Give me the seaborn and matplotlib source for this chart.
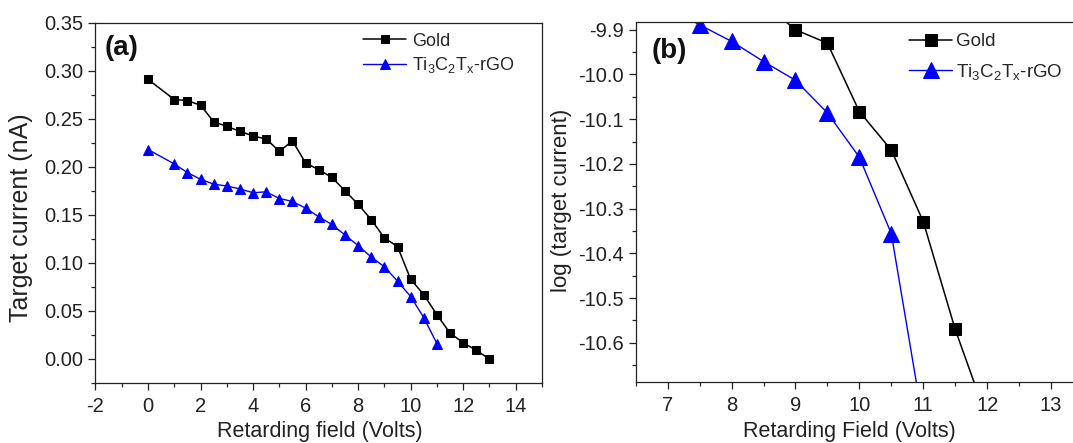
import matplotlib
matplotlib.use("Agg")
import matplotlib.pyplot as plt
import seaborn as sns
import pandas as pd
from matplotlib.ticker import MultipleLocator, FormatStrFormatter

# ---------------- data: panel (a) ----------------
gold_x = [0, 1, 1.5, 2, 2.5, 3, 3.5, 4, 4.5, 5, 5.5, 6, 6.5, 7, 7.5, 8, 8.5,
          9, 9.5, 10, 10.5, 11, 11.5, 12, 12.5, 13]
gold_current = [0.291, 0.270, 0.269, 0.264, 0.247, 0.242, 0.237, 0.232, 0.229,
                0.216, 0.227, 0.204, 0.197, 0.189, 0.175, 0.161, 0.145, 0.126,
                0.117, 0.083, 0.067, 0.046, 0.027, 0.017, 0.009, 0.000]
ti_x = [0, 1, 1.5, 2, 2.5, 3, 3.5, 4, 4.5, 5, 5.5, 6, 6.5, 7, 7.5, 8, 8.5,
        9, 9.5, 10, 10.5, 11]
ti_current = [0.218, 0.203, 0.194, 0.187, 0.182, 0.180, 0.177, 0.173, 0.174,
              0.167, 0.164, 0.157, 0.148, 0.140, 0.129, 0.118, 0.106, 0.096,
              0.081, 0.065, 0.043, 0.016]

# ---------------- data: panel (b) ----------------
gold_log_x = [8.5, 9, 9.5, 10, 10.5, 11, 11.5, 12]
gold_log = [-9.84, -9.900, -9.930, -10.083, -10.169, -10.329, -10.570, -10.77]
ti_log_x = [7, 7.5, 8, 8.5, 9, 9.5, 10, 10.5, 11]
ti_log = [-9.85, -9.889, -9.926, -9.971, -10.013, -10.086, -10.185, -10.356, -10.78]

series_names = ["Gold", r"Ti$_3$C$_2$T$_x$-rGO"]

sns.set_style("ticks")
plt.rcParams["font.family"] = ["Liberation Sans", "DejaVu Sans"]
plt.rcParams["mathtext.default"] = "regular"
plt.rcParams["axes.unicode_minus"] = False
plt.rcParams["axes.linewidth"] = 0.9

fig = plt.figure(figsize=(10.73, 4.43), dpi=100)
ax1 = fig.add_axes([0.089, 0.1354, 0.4161, 0.8134])
ax2 = fig.add_axes([0.5925, 0.1384, 0.4168, 0.8126])

df_a_gold = pd.DataFrame({"x": gold_x, "y": gold_current})
df_a_ti = pd.DataFrame({"x": ti_x, "y": ti_current})
df_b_gold = pd.DataFrame({"x": gold_log_x, "y": gold_log})
df_b_ti = pd.DataFrame({"x": ti_log_x, "y": ti_log})

# panel (a)
sns.lineplot(data=df_a_gold, x="x", y="y", ax=ax1, color="black", marker="s",
             markersize=5.5, markeredgecolor="black", linewidth=1.1,
             label=series_names[0])
sns.lineplot(data=df_a_ti, x="x", y="y", ax=ax1, color="#0000FF", marker="^",
             markersize=7, markeredgecolor="#0000FF", linewidth=1.0,
             label=series_names[1])

# panel (b)
sns.lineplot(data=df_b_gold, x="x", y="y", ax=ax2, color="black", marker="s",
             markersize=8, markeredgecolor="black", linewidth=1.1,
             label=series_names[0])
sns.lineplot(data=df_b_ti, x="x", y="y", ax=ax2, color="#0000FF", marker="^",
             markersize=11, markeredgecolor="#0000FF", linewidth=1.0,
             label=series_names[1])

ax1.set_xlim(-2, 15)
ax1.set_ylim(-0.025, 0.35)
ax1.xaxis.set_major_locator(MultipleLocator(2))
ax1.xaxis.set_minor_locator(MultipleLocator(1))
ax1.yaxis.set_major_locator(MultipleLocator(0.05))
ax1.yaxis.set_minor_locator(MultipleLocator(0.025))
ax1.yaxis.set_major_formatter(FormatStrFormatter("%.2f"))
ax1.xaxis.set_major_formatter(FormatStrFormatter("%d"))

ax2.set_xlim(6.5, 13.5)
ax2.set_ylim(-10.687, -9.882)
ax2.xaxis.set_major_locator(MultipleLocator(1))
ax2.xaxis.set_minor_locator(MultipleLocator(0.5))
ax2.yaxis.set_major_locator(MultipleLocator(0.1))
ax2.yaxis.set_minor_locator(MultipleLocator(0.05))
ax2.yaxis.set_major_formatter(FormatStrFormatter("%.1f"))
ax2.xaxis.set_major_formatter(FormatStrFormatter("%d"))

for ax in (ax1, ax2):
    ax.tick_params(which="major", direction="out", length=5, width=0.9,
                   labelsize=14.5, pad=3.5, colors="#222222", labelcolor="#222222",
                   top=False, right=False)
    ax.tick_params(which="minor", direction="out", length=3, width=0.9,
                   top=False, right=False)
    ax.tick_params(axis="x", which="major", pad=5)
    for s in ax.spines.values():
        s.set_visible(True)
        s.set_color("#222222")

ax1.set_xlabel("Retarding field (Volts)", fontsize=15.5, color="#222222")
ax1.xaxis.set_label_coords(0.502, -0.105)
ax1.set_ylabel("Target current (nA)", fontsize=18, color="#222222")
ax1.yaxis.set_label_coords(-0.14, 0.46)
ax2.set_xlabel("Retarding Field (Volts)", fontsize=15.5, color="#222222")
ax2.set_ylabel("log (target current)", fontsize=16, color="#222222")
ax2.yaxis.set_label_coords(-0.142, 0.505)
ax2.xaxis.set_label_coords(0.477, -0.108)

ax1.text(0.02, 0.93, "(a)", transform=ax1.transAxes, fontsize=20,
         fontweight="bold", ha="left", va="center", color="#111111")
ax2.text(0.036, 0.918, "(b)", transform=ax2.transAxes, fontsize=20,
         fontweight="bold", ha="left", va="center", color="#111111")

ax1.legend(loc="upper left", bbox_to_anchor=(0.599, 0.972), frameon=False,
           fontsize=13, borderpad=0, borderaxespad=0, handlelength=2.4,
           handletextpad=0.3, labelspacing=0.3)
ax2.legend(loc="upper left", bbox_to_anchor=(0.611, 0.968), frameon=False,
           fontsize=13.5, borderpad=0, borderaxespad=0, handlelength=2.3,
           handletextpad=0.2, labelspacing=0.6)

fig.savefig("out.png", dpi=100)
